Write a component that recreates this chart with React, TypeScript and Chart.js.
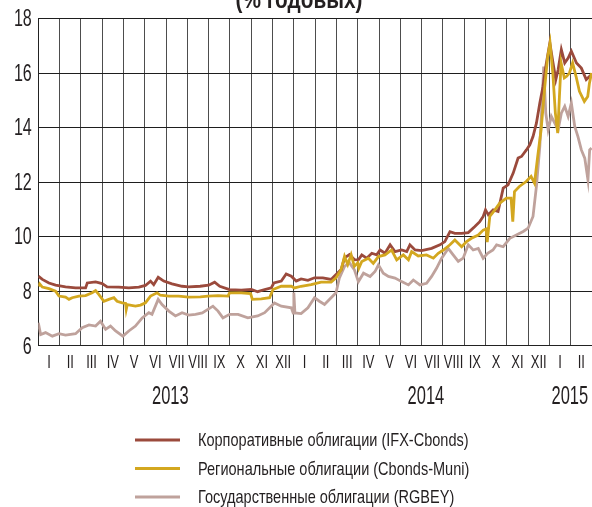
import React, { useEffect, useRef } from "react";
import { Chart, registerables } from "chart.js";

Chart.register(...registerables);

const FONT = '"Liberation Sans", Arial, sans-serif';
const TEXT_COLOR = "#231f20";

const titleText = "(% годовых)";
const monthLabels = [
  "I", "II", "III", "IV", "V", "VI", "VII", "VIII", "IX", "X", "XI", "XII",
  "I", "II", "III", "IV", "V", "VI", "VII", "VIII", "IX", "X", "XI", "XII",
  "I", "II",
];
const yearLabels = ["2013", "2014", "2015"];
const yearTickMonths = [6.2, 18.2, 24.96];
const yTicks = [6, 8, 10, 12, 14, 16, 18];

const seriesNames = [
  "Корпоративные облигации (IFX-Cbonds)",
  "Региональные облигации (Cbonds-Muni)",
  "Государственные облигации (RGBEY)",
];
const seriesColors = ["#9b4a3c", "#d3a71f", "#bfa29c"];

const corpMonths = [
  0, 0.19, 0.5, 0.81, 1.28, 1.75, 2.22, 2.3, 2.69, 3.0, 3.23, 3.78, 4.25, 4.72, 5.03, 5.27, 5.42, 5.63, 5.89,
  6.28, 6.75, 7.06, 7.6, 8.0, 8.28, 8.52, 8.98, 9.53, 10.0, 10.3, 10.63, 10.94, 11.06, 11.41, 11.64, 11.88,
  12.11, 12.34, 12.66, 12.97, 13.36, 13.75, 13.9, 14.22, 14.38, 14.61, 14.84, 15.03, 15.19, 15.42, 15.66,
  15.89, 16.05, 16.28, 16.52, 16.75, 17.06, 17.3, 17.45, 17.69, 18.0, 18.47, 18.86, 19.09, 19.33, 19.56,
  19.88, 20.19, 20.5, 20.73, 20.89, 21.0, 21.13, 21.36, 21.59, 21.83, 22.06, 22.3, 22.53, 22.69, 22.92,
  23.08, 23.23, 23.39, 23.55, 23.7, 23.83, 24.02, 24.17, 24.3, 24.41, 24.56, 24.72, 24.88, 25.03, 25.27,
  25.5, 25.73, 25.89, 25.98,
];
const corpValues = [
  8.55, 8.43, 8.3, 8.22, 8.16, 8.12, 8.12, 8.3, 8.34, 8.28, 8.16, 8.15, 8.12, 8.15, 8.21, 8.37, 8.24, 8.51, 8.37,
  8.27, 8.18, 8.16, 8.18, 8.22, 8.33, 8.18, 8.06, 8.04, 8.06, 7.98, 8.06, 8.12, 8.3, 8.37, 8.63, 8.55,
  8.37, 8.45, 8.4, 8.49, 8.49, 8.43, 8.55, 8.79, 9.22, 9.34, 9.16, 9.15, 9.33, 9.21, 9.39,
  9.33, 9.51, 9.39, 9.7, 9.45, 9.51, 9.45, 9.7, 9.51, 9.49, 9.57, 9.7, 9.82, 10.18, 10.12,
  10.12, 10.15, 10.37, 10.55, 10.74, 10.98, 10.8, 10.98, 10.92, 11.78, 11.9, 12.33, 12.88, 12.94, 13.18,
  13.37, 13.67, 14.16, 14.9, 15.51, 16.24, 17.1, 16.37, 15.76, 16.12, 16.86, 16.37, 16.55, 16.8, 16.37,
  16.18, 15.76, 15.88, 15.94,
];

const muniMonths = [
  0, 0.06, 0.19, 0.5, 0.81, 0.97, 1.28, 1.44, 1.59, 1.91, 2.22, 2.53, 2.69, 2.84, 3.08, 3.31, 3.55, 3.7, 3.94,
  4.1, 4.13, 4.18, 4.56, 4.8, 5.03, 5.27, 5.58, 5.73, 6.13, 6.59, 7.06, 7.61, 7.97, 8.44, 8.91, 8.98, 9.53,
  9.97, 10.05, 10.47, 10.86, 11.02, 11.41, 11.88, 12.03, 12.34, 12.81, 13.28, 13.75, 13.98, 14.22, 14.38,
  14.53, 14.69, 14.84, 15.0, 15.05, 15.19, 15.5, 15.73, 15.97, 16.28, 16.59, 16.83, 17.14, 17.38, 17.53,
  17.84, 18.23, 18.55, 18.78, 19.02, 19.33, 19.56, 19.88, 20.11, 20.34, 20.66, 20.89, 21.03, 21.08, 21.2,
  21.44, 21.67, 21.98, 22.2, 22.28, 22.36, 22.59, 22.91, 23.14, 23.3, 23.45, 23.61, 23.77, 23.92, 24.03,
  24.16, 24.28, 24.39, 24.47, 24.55, 24.7, 24.81, 24.94, 25.09, 25.25, 25.41, 25.64, 25.8, 25.88, 25.98,
];
const muniValues = [
  8.18, 8.27, 8.15, 8.09, 8.0, 7.82, 7.78, 7.7, 7.76, 7.82, 7.84, 7.94, 8.02, 7.88, 7.63, 7.7, 7.76, 7.63, 7.57,
  7.55, 7.33, 7.51, 7.45, 7.49, 7.57, 7.82, 7.94, 7.85, 7.82, 7.82, 7.78, 7.79, 7.82, 7.84, 7.82, 7.94, 7.94,
  7.91, 7.7, 7.72, 7.76, 8.06, 8.18, 8.18, 8.12, 8.18, 8.24, 8.33, 8.33, 8.49, 8.79, 9.28,
  8.98, 9.34, 8.91, 9.04, 8.84, 9.09, 9.21, 9.02, 9.27, 9.33, 9.51, 9.15, 9.33, 9.15, 9.45,
  9.29, 9.33, 9.21, 9.39, 9.51, 9.7, 9.88, 9.63, 9.82, 9.94, 10.06, 10.24, 10.28, 9.8, 10.74,
  10.98, 11.23, 11.41, 11.41, 10.55, 11.65, 11.84, 12.02, 12.21, 11.96, 12.94, 13.92, 15.39, 16.61, 17.1,
  16.0, 14.53, 13.8, 15.14, 16.37, 15.82, 15.88, 16.0, 16.37, 15.88, 15.33, 14.96, 15.14, 15.63, 16.0,
];

const govMonths = [
  0, 0.11, 0.34, 0.66, 0.97, 1.28, 1.75, 2.06, 2.38, 2.69, 2.92, 3.16, 3.39, 3.63, 3.97, 4.25, 4.56, 4.88, 5.19,
  5.34, 5.63, 5.81, 6.13, 6.44, 6.75, 7.06, 7.38, 7.7, 8.2, 8.44, 8.67, 8.98, 9.38, 9.84, 10.3, 10.63, 11.09,
  11.41, 11.88, 11.97, 12.0, 12.05, 12.34, 12.66, 12.97, 13.2, 13.44, 13.75, 13.98, 14.14, 14.38, 14.61,
  14.84, 15.03, 15.27, 15.58, 15.81, 15.97, 16.2, 16.44, 16.75, 17.06, 17.38, 17.61, 17.92, 18.23, 18.47,
  18.7, 18.94, 19.25, 19.48, 19.72, 19.95, 20.19, 20.42, 20.66, 20.89, 21.1, 21.35, 21.52, 21.83, 22.14,
  22.45, 22.77, 23.0, 23.23, 23.39, 23.55, 23.67, 23.73, 23.83, 23.94, 24.09, 24.25, 24.41, 24.56, 24.72,
  24.88, 25.03, 25.19, 25.34, 25.5, 25.66, 25.81, 25.89, 25.98,
];
const govValues = [
  6.84, 6.41, 6.48, 6.35, 6.44, 6.39, 6.44, 6.66, 6.76, 6.72, 6.9, 6.6, 6.72, 6.54, 6.35, 6.54, 6.72, 7.02, 7.21,
  7.15, 7.7, 7.51, 7.27, 7.09, 7.21, 7.12, 7.15, 7.2, 7.45, 7.27, 7.02, 7.15, 7.15, 7.02, 7.09, 7.21, 7.57,
  7.45, 7.39, 7.2, 7.95, 7.2, 7.18, 7.39, 7.76, 7.63, 7.51, 7.76, 7.94, 8.49, 8.91, 9.04,
  8.79, 8.35, 8.66, 8.54, 8.72, 8.96, 8.66, 8.54, 8.48, 8.35, 8.23, 8.41, 8.23, 8.29, 8.54,
  8.84, 9.21, 9.57, 9.33, 9.09, 9.21, 9.7, 9.51, 9.57, 9.21, 9.39, 9.51, 9.7, 9.63, 9.94,
  10.06, 10.19, 10.31, 10.74, 11.84, 13.31, 15.14, 16.24, 14.53, 13.92, 14.41, 14.16, 13.92, 14.53, 14.78,
  14.41, 14.9, 14.04, 13.67, 13.18, 12.88, 12.08, 13.18, 13.25,
];

const toPoints = (xs: number[], ys: number[]) => xs.map((x, i) => ({ x, y: ys[i] }));

// draw condensed text (horizontally squeezed) aligned at (x, y)
function condensedText(
  ctx: CanvasRenderingContext2D,
  text: string,
  x: number,
  y: number,
  font: string,
  squeeze: number,
  align: CanvasTextAlign,
  baseline: CanvasTextBaseline
) {
  ctx.save();
  ctx.translate(x, y);
  ctx.scale(squeeze, 1);
  ctx.font = font;
  ctx.fillStyle = TEXT_COLOR;
  ctx.textAlign = align;
  ctx.textBaseline = baseline;
  ctx.fillText(text, 0, 0);
  ctx.restore();
}

const textPlugin = {
  id: "condensedTexts",
  afterDraw(chart: any) {
    const ctx: CanvasRenderingContext2D = chart.ctx;
    const xs = chart.scales.x;
    const ys = chart.scales.y;
    const bottom = chart.chartArea.bottom;

    // title (cut off at the top edge)
    condensedText(ctx, titleText, chart.width / 2 + 3, 8, `bold 26px ${FONT}`, 0.8, "center", "alphabetic");

    // y tick labels
    yTicks.forEach((v) => {
      condensedText(ctx, String(v), xs.left - 6.5, ys.getPixelForValue(v) + 1.5, `23px ${FONT}`, 0.7, "right", "middle");
    });

    // month labels centred in each month band
    monthLabels.forEach((m, i) => {
      condensedText(ctx, m, xs.getPixelForValue(i + 0.5), bottom + 17.5, `18px ${FONT}`, 0.72, "center", "middle");
    });

    // year labels
    yearLabels.forEach((yr, i) => {
      condensedText(ctx, yr, xs.getPixelForValue(yearTickMonths[i]), bottom + 51, `25px ${FONT}`, 0.66, "center", "middle");
    });

    // legend
    seriesNames.forEach((name, i) => {
      const y = chart.height - 67 + i * 28.5;
      ctx.save();
      ctx.strokeStyle = seriesColors[i];
      ctx.lineWidth = 3;
      ctx.beginPath();
      ctx.moveTo(135, y);
      ctx.lineTo(180, y);
      ctx.stroke();
      ctx.restore();
      condensedText(ctx, name, 198, y + 1, `18.5px ${FONT}`, 0.785, "left", "middle");
    });
  },
};

export default function App() {
  const canvasRef = useRef<HTMLCanvasElement | null>(null);

  useEffect(() => {
    if (!canvasRef.current) return;
    const lineDs = (idx: number, data: any[], order: number) => ({
      label: seriesNames[idx],
      data,
      borderColor: seriesColors[idx],
      backgroundColor: seriesColors[idx],
      borderWidth: 2.8,
      pointRadius: 0,
      tension: 0,
      order,
      xAxisID: "x",
      yAxisID: "y",
    });
    const chart = new Chart(canvasRef.current, {
      type: "line",
      data: {
        datasets: [
          lineDs(0, toPoints(corpMonths, corpValues), 1),
          lineDs(1, toPoints(muniMonths, muniValues), 0),
          lineDs(2, toPoints(govMonths, govValues), 2),
        ],
      },
      options: {
        responsive: false,
        animation: false,
        events: [],
        layout: { padding: { top: 18.5, left: 0, right: 0, bottom: 161.3 } },
        plugins: { legend: { display: false }, tooltip: { enabled: false }, title: { display: false } },
        scales: {
          x: {
            type: "linear",
            position: "bottom",
            min: 0,
            max: monthLabels.length,
            afterBuildTicks: (scale: any) => {
              scale.ticks = [...monthLabels.map((_, i) => ({ value: i })), { value: monthLabels.length }];
            },
            afterFit: (scale: any) => {
              scale.height = 0;
              scale.paddingLeft = 0;
              scale.paddingRight = 0;
            },
            ticks: { display: false },
            grid: { color: "#4d4d4d", lineWidth: 1, drawTicks: false },
            border: { display: true, color: "#222" },
          },
          y: {
            type: "linear",
            position: "left",
            min: yTicks[0],
            max: yTicks[yTicks.length - 1],
            afterBuildTicks: (scale: any) => {
              scale.ticks = yTicks.map((v) => ({ value: v }));
            },
            afterFit: (scale: any) => {
              scale.width = 38.3;
              scale.paddingTop = 0;
              scale.paddingBottom = 0;
            },
            grid: { color: "#1e1e1e", lineWidth: 1, drawTicks: false },
            border: { display: true, color: "#222" },
            ticks: { display: false },
          },
        },
      },
      plugins: [textPlugin],
    } as any);
    return () => chart.destroy();
  }, []);

  return (
    <div style={{ position: "absolute", left: 0, top: 0, width: 592, height: 507, background: "#fff" }}>
      <canvas ref={canvasRef} width={592} height={507} style={{ display: "block" }} />
    </div>
  );
}
